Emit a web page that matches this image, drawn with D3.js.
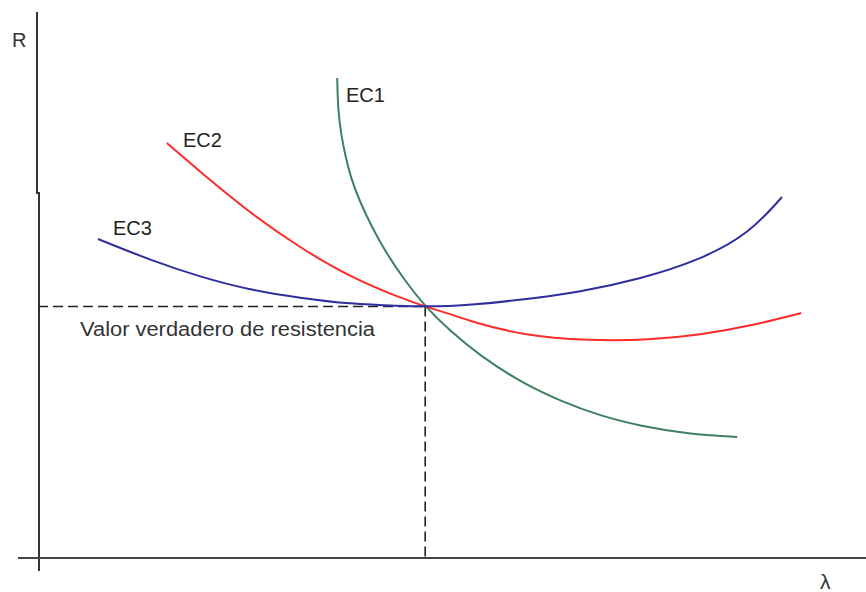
<!DOCTYPE html>
<html>
<head>
<meta charset="utf-8">
<script src="https://cdn.jsdelivr.net/npm/d3@7"></script>
<style>
  html, body { margin: 0; padding: 0; background: #fff; }
  svg { display: block; font-family: "Liberation Sans", Arial, sans-serif; }
</style>
</head>
<body>
<svg id="chart" width="866" height="592"></svg>
<script>
// Resistance estimates R versus the regularisation parameter λ (arbitrary units)
const ec1Lambda = [37.4, 37.5, 37.9, 38.4, 39.1, 40.3, 41.8, 43.6, 45.9, 48.4, 51.5, 55.3, 60.3, 65.3, 70.3, 75.3, 81.3, 87.4];
const ec1R      = [96.0, 89.6, 84.6, 80.6, 76.0, 71.0, 66.0, 60.8, 55.4, 50.3, 45.4, 40.4, 35.2, 31.4, 28.4, 26.4, 24.8, 24.2];

const ec2Lambda = [16.1, 20.3, 26.5, 32.8, 39.0, 45.3, 48.4, 51.5, 54.0, 60.3, 69.0, 76.5, 82.8, 89.0, 95.4];
const ec2R      = [83.0, 77.2, 69.0, 62.0, 56.2, 52.0, 50.3, 48.8, 47.4, 44.6, 43.4, 43.6, 44.6, 46.4, 49.0];

const ec3Lambda = [7.5, 14.0, 20.3, 26.5, 32.8, 39.0, 45.3, 48.4, 51.5, 54.0, 60.3, 67.8, 75.3, 82.8, 89.0, 93.0];
const ec3R      = [63.8, 59.6, 56.2, 53.6, 52.0, 50.8, 50.4, 50.3, 50.4, 50.6, 51.6, 53.2, 55.8, 59.6, 65.0, 72.2];

const seriesNames = ["EC1", "EC2", "EC3"];
const seriesColors = ["#3f8060", "#ff2a2a", "#2e2e9c"];

// True resistance value where all curves meet
const trueLambda = 48.4;
const trueR = 50.3;
const trueLabel = "Valor verdadero de resistencia";

const axisLabelY = "R";
const axisLabelX = "λ";

const svg = d3.select("#chart");

const x = d3.scaleLinear().domain([0, 100]).range([38, 838]);
const y = d3.scaleLinear().domain([0, 100]).range([558, 58]);

// Axes: plain lines without ticks
svg.append("path")
  .attr("d", "M37,12 L37,193 L39,193 L39,571")
  .attr("fill", "none")
  .attr("stroke", "#333")
  .attr("stroke-width", 2);
svg.append("line")
  .attr("x1", 18).attr("x2", 866)
  .attr("y1", y(0)).attr("y2", y(0))
  .attr("stroke", "#444")
  .attr("stroke-width", 2);

svg.append("text").attr("x", 12).attr("y", 47)
  .attr("font-size", 20).attr("fill", "#333").text(axisLabelY);
svg.append("text").attr("x", 820).attr("y", 589)
  .attr("font-size", 21).attr("fill", "#333").text(axisLabelX);

// Dashed guides to the true value
const guide = svg.append("g")
  .attr("stroke", "#222").attr("stroke-width", 1.6)
  .attr("stroke-dasharray", "10,5").attr("fill", "none");
guide.append("line")
  .attr("x1", x(0)).attr("x2", x(trueLambda))
  .attr("y1", y(trueR)).attr("y2", y(trueR));
guide.append("line")
  .attr("x1", x(trueLambda)).attr("x2", x(trueLambda))
  .attr("y1", y(trueR)).attr("y2", y(0));

svg.append("text").attr("x", 80).attr("y", 336)
  .attr("font-size", 20).attr("fill", "#333")
  .attr("textLength", 295).attr("lengthAdjust", "spacingAndGlyphs")
  .text(trueLabel);

// Curves, smoothed with a B-spline through the sampled estimates
const line = d3.line()
  .x(d => x(d[0]))
  .y(d => y(d[1]))
  .curve(d3.curveBasis);

const series = [
  d3.zip(ec1Lambda, ec1R),
  d3.zip(ec2Lambda, ec2R),
  d3.zip(ec3Lambda, ec3R)
];

series.forEach((pts, i) => {
  svg.append("path")
    .datum(pts)
    .attr("d", line)
    .attr("fill", "none")
    .attr("stroke", seriesColors[i])
    .attr("stroke-width", 2);
});

// Curve labels, placed beside each curve's start
const labelPos = [[346, 102], [183, 147], [113, 235]];
seriesNames.forEach((name, i) => {
  svg.append("text")
    .attr("x", labelPos[i][0]).attr("y", labelPos[i][1])
    .attr("font-size", 20).attr("fill", "#222")
    .text(name);
});
</script>
</body>
</html>
